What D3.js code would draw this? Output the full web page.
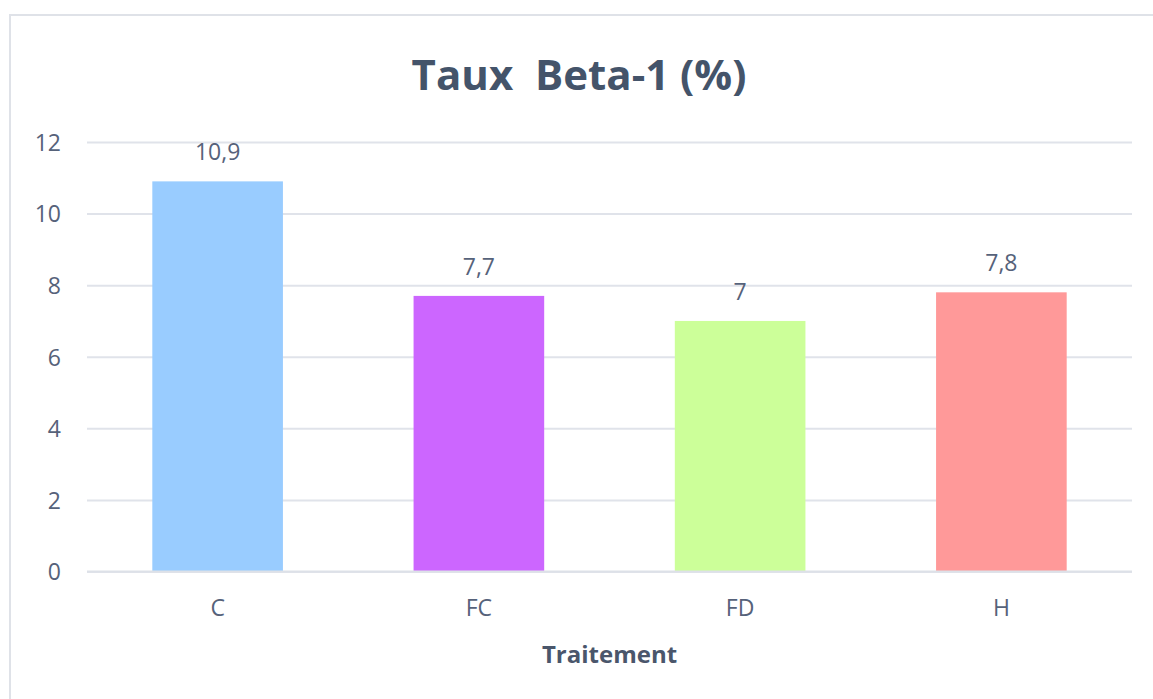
<!DOCTYPE html>
<html>
<head>
<meta charset="utf-8">
<script src="https://cdn.jsdelivr.net/npm/d3@7"></script>
<style>
body { margin: 0; background: #fff; }
text { font-family: "Open Sans", "Noto Sans", sans-serif; }
</style>
</head>
<body>
<script>
// Taux Beta-1 par traitement
var categories = ['C', 'FC', 'FD', 'H'];
var values = [10.9, 7.7, 7, 7.8];
var labels = ['10,9', '7,7', '7', '7,8'];
var colors = ['#99CCFF', '#CC66FF', '#CCFF99', '#FF9999'];
var yTicks = [0, 2, 4, 6, 8, 10, 12];

var WIDTH = 1153;
var HEIGHT = 699;
var plotLeft = 87, plotRight = 1132, plotTop = 142, plotBottom = 571.5;

var svg = d3.select('body')
.append('svg')
.attr('width', WIDTH)
.attr('height', HEIGHT);

// chart frame
svg.append('rect')
.attr('x', 10).attr('y', 15)
.attr('width', 1160).attr('height', 720)
.attr('fill', 'none')
.attr('stroke', '#dfe2e8')
.attr('stroke-width', 2);

var x = d3.scaleBand()
.domain(categories)
.range([plotLeft, plotRight])
.paddingInner(0.5)
.paddingOuter(0.25);

var y = d3.scaleLinear()
.domain([0, 12])
.range([plotBottom, plotTop]);

// gridlines + y labels
var yAxis = svg.append('g')
.attr('transform', 'translate(' + plotLeft + ',0)')
.call(d3.axisLeft(y).tickValues(yTicks).tickSize(-(plotRight - plotLeft)).tickPadding(26));
yAxis.select('.domain').remove();
yAxis.selectAll('line').attr('stroke', '#e0e3ea').attr('stroke-width', 2);
yAxis.selectAll('text')
.attr('fill', '#56627a')
.attr('dy', '0.36em')
.style('font-size', '23px');

svg.selectAll('rect.bar')
.data(values)
.enter()
.append('rect')
.attr('class', 'bar')
.attr('x', function(d, i){return x(categories[i]);})
.attr('y', function(d){return y(d);})
.attr('width', x.bandwidth())
.attr('height', function(d){return y(0) - y(d);})
.attr('fill', function(d, i){return colors[i];});

// baseline over bars
svg.append('line')
.attr('x1', plotLeft).attr('x2', plotRight)
.attr('y1', y(0)).attr('y2', y(0))
.attr('stroke', '#dde1e8')
.attr('stroke-width', 2);

svg.selectAll('text.val')
.data(values)
.enter()
.append('text')
.attr('class', 'val')
.attr('x', function(d, i){return x(categories[i]) + x.bandwidth() / 2;})
.attr('y', function(d){return y(d) - 21;})
.attr('text-anchor', 'middle')
.attr('fill', '#56627a')
.style('font-size', '23px')
.text(function(d, i){return labels[i];});

// x labels
var xAxis = svg.append('g')
.attr('transform', 'translate(0,' + plotBottom + ')')
.call(d3.axisBottom(x).tickSize(0).tickPadding(28));
xAxis.select('.domain').remove();
xAxis.selectAll('text')
.attr('fill', '#56627a')
.style('font-size', '23px');

svg.append('text')
.attr('x', (plotLeft + plotRight) / 2)
.attr('y', 663)
.attr('text-anchor', 'middle')
.attr('fill', '#4a566b')
.style('font-size', '24px')
.style('font-weight', 'bold')
.text('Traitement');

svg.append('text')
.attr('x', 579)
.attr('y', 90)
.attr('text-anchor', 'middle')
.attr('fill', '#44546A')
.style('font-size', '42px')
.style('font-weight', 'bold')
.style('white-space', 'pre')
.text('Taux  Beta-1 (%)');
</script>
</body>
</html>
